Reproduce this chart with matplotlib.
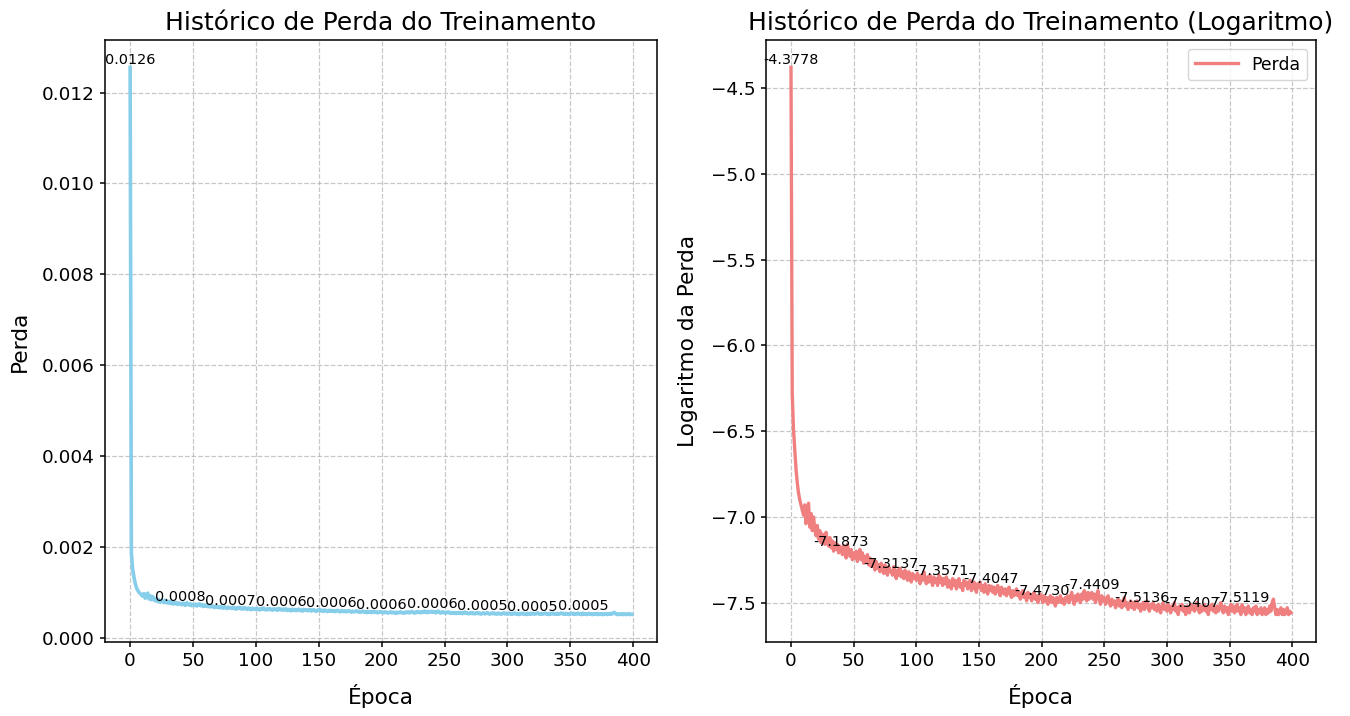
import numpy as np
import matplotlib
matplotlib.use("Agg")
import matplotlib.pyplot as plt

# Log of the training loss per epoch
log_loss = [
    -4.3778, -6.28, -6.49, -6.61, -6.72, -6.80, -6.86, -6.90, -6.93, -6.96,
    -6.99, -6.93, -7.04, -6.95, -6.92, -7.06, -6.98, -7.08, -7.00, -7.07,
    -7.11, -7.05, -7.13, -7.08, -7.15, -7.10, -7.12, -7.16, -7.09, -7.15,
    -7.17, -7.12, -7.18, -7.14, -7.20, -7.15, -7.19, -7.16, -7.21, -7.17,
    -7.1873, -7.22, -7.17, -7.21, -7.24, -7.16, -7.20, -7.23, -7.19, -7.25,
    -7.21, -7.24, -7.20, -7.26, -7.22, -7.19, -7.25, -7.21, -7.27, -7.23,
    -7.26, -7.22, -7.28, -7.24, -7.29, -7.25, -7.27, -7.31, -7.26, -7.30,
    -7.28, -7.32, -7.27, -7.30, -7.33, -7.28, -7.31, -7.34, -7.29, -7.32,
    -7.3137, -7.34, -7.29, -7.33, -7.36, -7.31, -7.34, -7.30, -7.35, -7.32,
    -7.36, -7.31, -7.34, -7.37, -7.32, -7.35, -7.38, -7.33, -7.36, -7.34,
    -7.37, -7.33, -7.36, -7.39, -7.34, -7.37, -7.32, -7.36, -7.39, -7.35,
    -7.38, -7.34, -7.37, -7.40, -7.35, -7.38, -7.36, -7.40, -7.34, -7.38,
    -7.3571, -7.40, -7.36, -7.39, -7.35, -7.41, -7.37, -7.39, -7.42, -7.36,
    -7.40, -7.37, -7.42, -7.38, -7.36, -7.41, -7.39, -7.43, -7.37, -7.40,
    -7.38, -7.42, -7.39, -7.37, -7.43, -7.40, -7.38, -7.42, -7.44, -7.39,
    -7.41, -7.38, -7.43, -7.40, -7.44, -7.39, -7.42, -7.45, -7.40, -7.43,
    -7.4047, -7.44, -7.41, -7.45, -7.42, -7.40, -7.44, -7.46, -7.41, -7.43,
    -7.45, -7.42, -7.46, -7.43, -7.41, -7.45, -7.47, -7.43, -7.46, -7.44,
    -7.42, -7.46, -7.44, -7.48, -7.45, -7.43, -7.47, -7.45, -7.49, -7.44,
    -7.47, -7.45, -7.49, -7.46, -7.44, -7.48, -7.46, -7.50, -7.47, -7.45,
    -7.4730, -7.50, -7.46, -7.49, -7.47, -7.51, -7.48, -7.46, -7.50, -7.47,
    -7.49, -7.52, -7.47, -7.50, -7.48, -7.46, -7.50, -7.48, -7.51, -7.47,
    -7.49, -7.46, -7.50, -7.47, -7.44, -7.48, -7.51, -7.46, -7.49, -7.45,
    -7.47, -7.50, -7.45, -7.48, -7.43, -7.47, -7.49, -7.44, -7.48, -7.46,
    -7.4409, -7.48, -7.45, -7.50, -7.46, -7.43, -7.48, -7.51, -7.46, -7.49,
    -7.47, -7.51, -7.48, -7.46, -7.50, -7.52, -7.48, -7.51, -7.49, -7.53,
    -7.50, -7.48, -7.52, -7.49, -7.53, -7.50, -7.47, -7.52, -7.50, -7.54,
    -7.51, -7.49, -7.53, -7.50, -7.54, -7.51, -7.49, -7.53, -7.51, -7.55,
    -7.5136, -7.50, -7.54, -7.52, -7.49, -7.53, -7.55, -7.51, -7.53, -7.50,
    -7.54, -7.52, -7.55, -7.51, -7.53, -7.56, -7.52, -7.50, -7.54, -7.52,
    -7.55, -7.51, -7.53, -7.56, -7.52, -7.54, -7.50, -7.55, -7.53, -7.57,
    -7.52, -7.54, -7.51, -7.55, -7.53, -7.57, -7.52, -7.54, -7.56, -7.51,
    -7.5407, -7.52, -7.55, -7.53, -7.50, -7.54, -7.56, -7.52, -7.55, -7.53,
    -7.51, -7.55, -7.53, -7.57, -7.52, -7.54, -7.51, -7.55, -7.53, -7.56,
    -7.52, -7.55, -7.53, -7.50, -7.54, -7.56, -7.52, -7.55, -7.53, -7.57,
    -7.53, -7.51, -7.55, -7.52, -7.56, -7.54, -7.51, -7.55, -7.53, -7.57,
    -7.5119, -7.55, -7.53, -7.57, -7.54, -7.52, -7.56, -7.54, -7.57, -7.53,
    -7.55, -7.52, -7.57, -7.54, -7.56, -7.53, -7.57, -7.55, -7.53, -7.57,
    -7.54, -7.56, -7.52, -7.55, -7.50, -7.48, -7.53, -7.57, -7.54, -7.57,
    -7.55, -7.53, -7.57, -7.54, -7.57, -7.55, -7.53, -7.57, -7.55, -7.56,
]
log_loss = np.array(log_loss)
loss = np.exp(log_loss)
epochs = np.arange(len(log_loss))
annot_step = 40

titles = ["Histórico de Perda do Treinamento",
          "Histórico de Perda do Treinamento (Logaritmo)"]
xlabel = "Época"
ylabels = ["Perda", "Logaritmo da Perda"]
legend_label = "Perda"

fig = plt.figure(figsize=(13.5, 7.16), dpi=100)
ax1 = fig.add_axes([0.0778, 0.1034, 0.4089, 0.8407])
ax2 = fig.add_axes([0.5674, 0.1034, 0.4074, 0.8407])

for ax in (ax1, ax2):
    for sp in ax.spines.values():
        sp.set_linewidth(1.1)
    ax.tick_params(labelsize=13.2, width=1.1, length=3.9)

# Left: raw loss
ax1.plot(epochs, loss, color="skyblue", linewidth=2.6)
for i in range(0, len(loss), annot_step):
    ax1.text(epochs[i], loss[i], f"{loss[i]:.4f}", ha="center", va="bottom",
             fontsize=10.4)
ax1.set_title(titles[0], fontsize=18, pad=7)
ax1.set_xlabel(xlabel, fontsize=15.6, labelpad=10)
ax1.set_ylabel(ylabels[0], fontsize=15.6, labelpad=9)
ax1.grid(True, linestyle="--", alpha=0.7, linewidth=0.9)

# Right: log loss
ax2.plot(epochs, log_loss, color="lightcoral", linewidth=2.4, label=legend_label)
for i in range(0, len(log_loss), annot_step):
    ax2.text(epochs[i], log_loss[i], f"{log_loss[i]:.4f}", ha="center",
             va="bottom", fontsize=10.4)
ax2.set_title(titles[1], fontsize=18, pad=7)
ax2.set_xlabel(xlabel, fontsize=15.6, labelpad=10)
ax2.set_ylabel(ylabels[1], fontsize=15.6, labelpad=9)
ax2.grid(True, linestyle="--", alpha=0.7, linewidth=0.9)
ax2.legend(loc="upper right", fontsize=12.4, handlelength=2.5)

fig.savefig("out.png", dpi=100)
